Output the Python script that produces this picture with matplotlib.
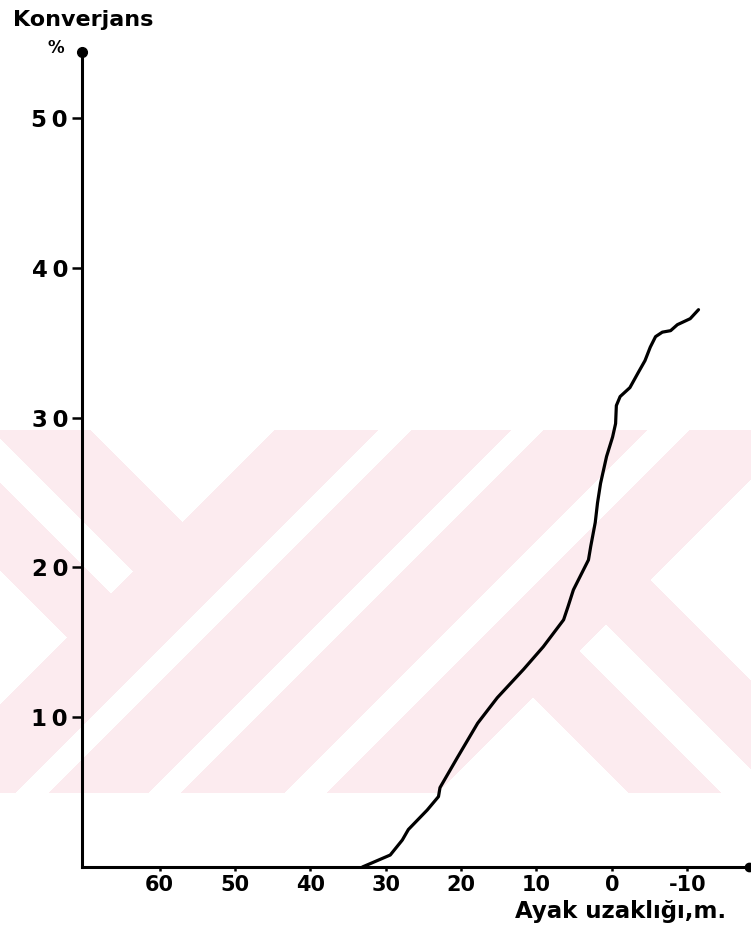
import numpy as np
import matplotlib
matplotlib.use("Agg")
import matplotlib.pyplot as plt

# curve: distance from face (m) vs convergence (%)
ayak_uzakligi = [33.1, 29.4, 27.8, 27.0, 24.5, 23.0, 22.8, 20.5, 17.8, 15.2,
                 11.7, 9.1, 6.4, 5.8, 5.1, 3.1, 2.8, 2.2, 1.9, 1.5,
                 0.7, -0.1, -0.5, -0.6, -1.1, -2.4, -3.5, -4.4, -5.1, -5.8,
                 -6.7, -7.8, -8.7, -10.4, -11.5]
konverjans = [0.0, 0.8, 1.8, 2.5, 3.8, 4.7, 5.3, 7.3, 9.6, 11.3,
              13.2, 14.7, 16.5, 17.4, 18.5, 20.5, 21.4, 23.0, 24.3, 25.6,
              27.4, 28.7, 29.6, 30.8, 31.4, 32.0, 33.0, 33.8, 34.7, 35.4,
              35.7, 35.8, 36.2, 36.6, 37.2]

x_ticks = [60, 50, 40, 30, 20, 10, 0, -10]
y_ticks = [10, 20, 30, 40, 50]

W, H = 751, 932
fig = plt.figure(figsize=(W / 100, H / 100), dpi=100)

# faint pink watermark band behind the plot
yy, xx = np.mgrid[0:H, 0:W] + 0.5
s = xx + yy
d = yy - xx
band = (yy >= 430) & (yy <= 793)
left = s < 705
right = s > 1230
mid = ~left & ~right
white_left = (d < 340) | ((d > 438) & (d < 483)) | (d > 570)
white_mid = ((s > 808) & (s < 842)) | ((s > 941) & (s < 974)) | ((s > 1077) & (s < 1120))
white_right = (d < -70) | ((d > 18) & (d < 72)) | (d > 164)
pink = band & ~((left & white_left) | (mid & white_mid) | (right & white_right))
bg = np.ones((H, W, 3))
bg[pink] = np.array([252, 235, 239]) / 255
fig.figimage(bg, xo=0, yo=0, origin="upper", zorder=-1)

ax = fig.add_axes([82 / W, 65 / H, (749 - 82) / W, (867 - 52) / H])
ax.set_facecolor("none")

ax.plot(ayak_uzakligi, konverjans, color="black", lw=2.3,
        solid_capstyle="round", solid_joinstyle="round")

ax.set_xlim(70.3, -18.2)
ax.set_ylim(0, 54.4)

for side in ["top", "right"]:
    ax.spines[side].set_visible(False)
for side in ["left", "bottom"]:
    ax.spines[side].set_linewidth(2.2)

ax.set_xticks(x_ticks)
ax.set_xticklabels([str(v) for v in x_ticks], fontweight="bold")
ax.set_yticks(y_ticks)
ax.set_yticklabels(["\u2009".join(str(v)) for v in y_ticks], fontweight="bold")
ax.tick_params(axis="y", direction="out", length=7, width=1.8, pad=3, labelsize=16.5)
ax.tick_params(axis="x", direction="out", length=3, width=1.8, pad=3, labelsize=15)

# end dots on the axes
ax.plot([0], [1], "o", color="black", ms=7, transform=ax.transAxes, clip_on=False)
ax.plot([1], [0], "o", color="black", ms=6, transform=ax.transAxes, clip_on=False)

fig.text(13 / W, 1 - 26 / H, "Konverjans", fontsize=16, fontweight="bold",
         va="baseline", ha="left")
fig.text(56 / W, 1 - 53 / H, "%", fontsize=12, fontweight="bold",
         va="baseline", ha="center")
fig.text(515 / W, 1 - 918 / H, "Ayak uzaklığı,m.", fontsize=16.5, fontweight="bold",
         va="baseline", ha="left")

fig.savefig("out.png", dpi=100)
